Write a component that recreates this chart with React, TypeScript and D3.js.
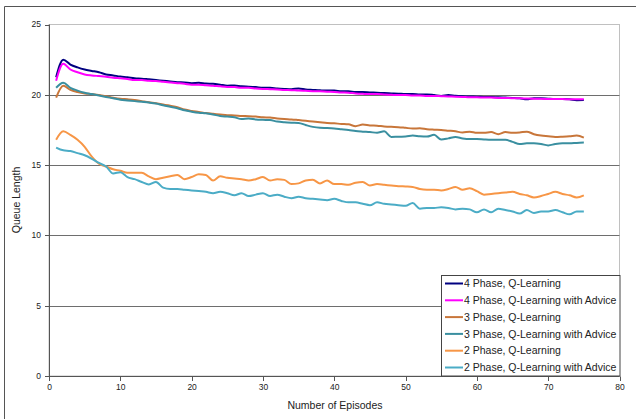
import React from "react";
import * as d3 from "d3";

const episodes: number[] = d3.range(1, 76);

const phase4Q: number[] = [
  21.25, 22.5, 22.15, 21.95, 21.8, 21.7, 21.6, 21.45, 21.38, 21.3,
  21.25, 21.18, 21.15, 21.1, 21.05, 21.0, 20.95, 20.9, 20.88, 20.83,
  20.85, 20.8, 20.78, 20.72, 20.65, 20.66, 20.6, 20.58, 20.55, 20.5,
  20.5, 20.45, 20.42, 20.4, 20.45, 20.38, 20.35, 20.32, 20.3, 20.3,
  20.25, 20.25, 20.2, 20.2, 20.17, 20.15, 20.12, 20.1, 20.08, 20.05,
  20.05, 20.02, 20.03, 19.98, 19.92, 19.98, 19.93, 19.9, 19.88, 19.87,
  19.85, 19.85, 19.82, 19.8, 19.78, 19.75, 19.68, 19.75, 19.75, 19.72,
  19.7, 19.7, 19.68, 19.62, 19.63,
];

const phase4QA: number[] = [
  21.0, 22.2, 21.8, 21.6, 21.45, 21.38, 21.33, 21.28, 21.22, 21.17,
  21.12, 21.05, 21.05, 21.0, 20.98, 20.93, 20.88, 20.83, 20.78, 20.72,
  20.72, 20.68, 20.65, 20.6, 20.56, 20.55, 20.5, 20.5, 20.45, 20.42,
  20.4, 20.38, 20.35, 20.33, 20.3, 20.28, 20.26, 20.25, 20.22, 20.2,
  20.17, 20.15, 20.1, 20.07, 20.05, 20.05, 20.02, 20.0, 19.98, 19.98,
  19.95, 19.95, 19.92, 19.92, 19.9, 19.88, 19.87, 19.85, 19.82, 19.82,
  19.8, 19.8, 19.78, 19.78, 19.75, 19.75, 19.73, 19.72, 19.72, 19.7,
  19.7, 19.7, 19.68, 19.68, 19.68,
];

const phase3Q: number[] = [
  19.8, 20.65, 20.35, 20.2, 20.1, 20.05, 19.98, 19.9, 19.8, 19.72,
  19.68, 19.63, 19.55, 19.47, 19.4, 19.32, 19.22, 19.12, 18.95, 18.85,
  18.78, 18.7, 18.65, 18.6, 18.55, 18.53, 18.5, 18.48, 18.45, 18.4,
  18.38, 18.32, 18.28, 18.25, 18.2, 18.15, 18.1, 18.05, 18.0, 17.97,
  17.93, 17.9, 17.77, 17.88, 17.82, 17.8, 17.75, 17.72, 17.7, 17.65,
  17.6, 17.62, 17.55, 17.52, 17.5, 17.45, 17.4, 17.32, 17.38, 17.3,
  17.3, 17.35, 17.2, 17.35, 17.3, 17.32, 17.38, 17.2, 17.1, 17.05,
  17.0, 17.02, 17.05, 17.1, 16.95,
];

const phase3QA: number[] = [
  20.5, 20.86, 20.5, 20.3, 20.15, 20.05, 19.95, 19.85, 19.75, 19.65,
  19.6, 19.55, 19.5, 19.45, 19.38, 19.25, 19.15, 19.05, 18.9, 18.8,
  18.72, 18.68, 18.6, 18.5, 18.45, 18.4, 18.28, 18.32, 18.25, 18.22,
  18.2, 18.1, 18.05, 18.02, 18.0, 17.85, 17.72, 17.65, 17.63, 17.6,
  17.55, 17.5, 17.42, 17.38, 17.35, 17.3, 17.4, 17.0, 17.02, 17.03,
  17.1, 17.05, 17.03, 17.15, 16.82, 16.9, 17.0, 16.9, 16.85, 16.85,
  16.82, 16.8, 16.8, 16.8, 16.65, 16.5, 16.55, 16.55, 16.5, 16.4,
  16.5, 16.55, 16.55, 16.58, 16.6,
];

const phase2Q: number[] = [
  16.8, 17.4, 17.15, 16.8, 16.3, 15.6, 15.1, 14.9, 14.7, 14.6,
  14.45, 14.45, 14.45, 14.2, 14.0, 14.1, 14.2, 14.3, 14.0, 14.15,
  14.35, 14.3, 13.9, 14.2, 14.1, 14.05, 14.0, 13.9, 14.0, 14.15,
  13.9, 14.0, 13.95, 13.65, 13.7, 13.9, 13.95, 13.7, 13.9, 13.65,
  13.65, 13.6, 13.75, 13.8, 13.55, 13.65, 13.6, 13.55, 13.5, 13.48,
  13.45, 13.3, 13.25, 13.25, 13.2, 13.3, 13.45, 13.25, 13.35, 13.15,
  12.9, 12.95, 13.0, 13.05, 13.1, 12.95, 12.85, 12.7, 12.8, 12.95,
  13.1, 12.95, 12.85, 12.7, 12.85,
];

const phase2QA: number[] = [
  16.25, 16.05, 16.0, 15.85, 15.7, 15.45, 15.15, 14.9, 14.4, 14.5,
  14.15, 14.0, 13.8, 13.62, 13.8, 13.4, 13.3, 13.3, 13.25, 13.2,
  13.15, 13.1, 13.0, 13.1, 13.0, 12.85, 13.0, 12.8, 12.9, 13.0,
  12.8, 12.9, 12.75, 12.65, 12.75, 12.65, 12.6, 12.55, 12.5, 12.6,
  12.45, 12.35, 12.35, 12.25, 12.15, 12.35, 12.25, 12.2, 12.15, 12.1,
  12.3, 11.9, 11.95, 11.95, 12.0, 11.95, 11.85, 11.9, 11.85, 11.65,
  11.85, 11.65, 11.9, 11.8, 11.7, 11.55, 11.8, 11.6, 11.7, 11.7,
  11.8, 11.65, 11.5, 11.7, 11.7,
];

const seriesNames: string[] = [
  "4 Phase, Q-Learning",
  "4 Phase, Q-Learning with Advice",
  "3 Phase, Q-Learning",
  "3 Phase, Q-Learning with Advice",
  "2 Phase, Q-Learning",
  "2 Phase, Q-Learning with Advice",
];
const seriesColors: string[] = ["#000080", "#FF00FF", "#C8763A", "#3A8FA0", "#F79646", "#4BACC6"];
const seriesValues: number[][] = [phase4Q, phase4QA, phase3Q, phase3QA, phase2Q, phase2QA];

const xTicks: number[] = [0, 10, 20, 30, 40, 50, 60, 70, 80];
const yTicks: number[] = [0, 5, 10, 15, 20, 25];

const W = 636;
const H = 419;
const font = "'Liberation Sans', Arial, sans-serif";

export default function App() {
  const x = d3.scaleLinear().domain([0, 80]).range([49, 619.5]);
  const y = d3.scaleLinear().domain([0, 25]).range([376, 24.5]);
  const line = d3
    .line<number>()
    .x((_, i) => x(episodes[i]))
    .y((v) => y(v))
    .curve(d3.curveMonotoneX);

  const legX = 441.5;
  const legY = 275.5;
  const legW = 178.5;
  const legH = 100.5;
  const rowH = 16.8;

  return (
    <svg
      width={W}
      height={H}
      style={{ position: "absolute", left: 0, top: 0, background: "#fff" }}
      fontFamily={font}
    >
      <path d={`M4.5,${H + 2} V6.5 H${W + 2}`} fill="none" stroke="#555" strokeWidth={1} />
      <rect x={49} y={24.5} width={570.5} height={351.5} fill="none" stroke="#c0c0c0" strokeWidth={1} />
      {yTicks
        .filter((t) => t > 0 && t < 25)
        .map((t) => (
          <line
            key={"g" + t}
            x1={49}
            x2={619.5}
            y1={Math.round(y(t)) + 0.5}
            y2={Math.round(y(t)) + 0.5}
            stroke="#6e6e6e"
            strokeWidth={1}
          />
        ))}
      <line x1={49.5} x2={49.5} y1={24.5} y2={376.5} stroke="#555" />
      <line x1={49} x2={619.5} y1={376.5} y2={376.5} stroke="#555" />
      {yTicks.map((t) => (
        <g key={"yt" + t}>
          <line x1={45} x2={49.5} y1={Math.round(y(t)) + 0.5} y2={Math.round(y(t)) + 0.5} stroke="#555" />
          <text x={41} y={y(t)} dy="0.35em" textAnchor="end" fontSize={8.5} fill="#222">
            {t}
          </text>
        </g>
      ))}
      {xTicks.map((t) => (
        <g key={"xt" + t}>
          <line x1={Math.round(x(t)) + 0.5} x2={Math.round(x(t)) + 0.5} y1={376.5} y2={381} stroke="#555" />
          <text x={x(t) + 0.5} y={390} textAnchor="middle" fontSize={8.5} fill="#222">
            {t}
          </text>
        </g>
      ))}
      <text x={335} y={409} textAnchor="middle" fontSize={10.5} fill="#222">
        Number of Episodes
      </text>
      <text transform={`translate(20,200) rotate(-90)`} textAnchor="middle" fontSize={10.5} fill="#222">
        Queue Length
      </text>
      {seriesValues.map((vals, i) => (
        <path
          key={"s" + i}
          d={line(vals) || ""}
          fill="none"
          stroke={seriesColors[i]}
          strokeWidth={2}
          strokeLinejoin="round"
        />
      ))}
      <rect x={legX} y={legY} width={legW} height={legH} fill="#fff" stroke="#444" strokeWidth={1} />
      {seriesNames.map((name, i) => {
        const cy = legY + 8 + i * rowH;
        return (
          <g key={"l" + i}>
            <line x1={445} x2={463} y1={cy} y2={cy} stroke={seriesColors[i]} strokeWidth={2} />
            <text x={464} y={cy} dy="0.35em" fontSize={10.5} fill="#222">
              {name}
            </text>
          </g>
        );
      })}
    </svg>
  );
}
